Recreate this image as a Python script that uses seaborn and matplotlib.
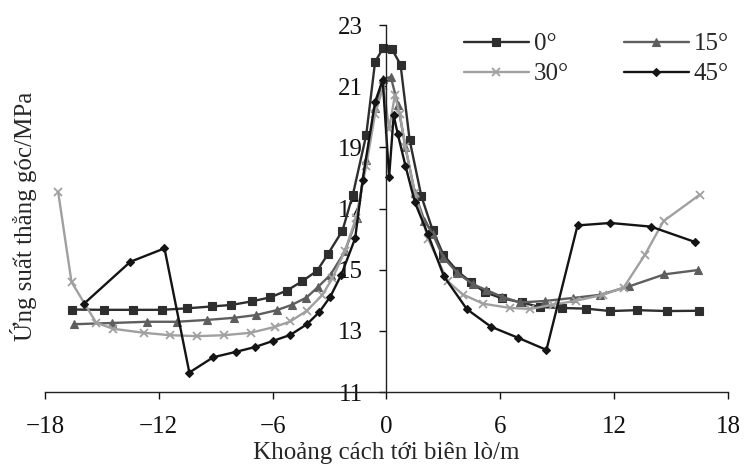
import matplotlib
matplotlib.use('Agg')
import matplotlib.pyplot as plt
import pandas as pd
import seaborn as sns

# gia tri doc tu hinh (da hieu chinh do nghieng cua ban scan)
angles = ['0°', '15°', '30°', '45°']

x_0 = [-16.55, -14.89, -13.34, -11.85, -10.5, -9.22, -8.17, -7.07, -6.12, -5.25,
       -4.43, -3.65, -3.07, -2.32, -1.77, -1.07, -0.6, -0.17, 0.27, 0.74,
       1.22, 1.84, 2.43, 3.0, 3.73, 4.46, 5.17, 6.07, 7.13, 8.1,
       9.25, 10.5, 11.8, 13.2, 14.8, 16.47]
y_0 = [13.70, 13.69, 13.69, 13.69, 13.74, 13.80, 13.85, 13.97, 14.10, 14.32,
       14.63, 14.97, 15.53, 16.28, 17.46, 19.4, 21.8, 22.25, 22.23, 21.71,
       19.24, 17.4, 16.3, 15.49, 14.96, 14.59, 14.27, 14.07, 13.93, 13.78,
       13.75, 13.73, 13.65, 13.68, 13.65, 13.66]

x_15 = [-16.45, -14.47, -12.62, -11.04, -9.46, -8.02, -6.87, -5.78, -5.0, -4.22,
        -3.62, -2.95, -2.19, -1.55, -1.07, -0.6, -0.16, 0.23, 0.6, 1.0,
        1.5, 2.0, 2.43, 3.0, 3.73, 4.54, 5.26, 6.07, 7.04, 8.36,
        9.85, 11.25, 12.8, 14.65, 16.4]
y_15 = [13.22, 13.26, 13.30, 13.30, 13.36, 13.43, 13.52, 13.68, 13.85, 14.09,
        14.43, 14.84, 15.6, 16.7, 18.6, 20.3, 21.25, 21.3, 20.4, 19.0,
        17.5, 16.6, 16.18, 15.4, 14.9, 14.53, 14.34, 14.12, 13.93, 13.98,
        14.08, 14.18, 14.46, 14.85, 14.99]

x_30 = [-17.3, -16.6, -15.3, -14.4, -12.8, -11.4, -9.97, -8.56, -7.16, -5.9,
        -5.07, -4.2, -3.4, -2.85, -2.2, -1.6, -1.07, -0.6, -0.16, 0.14,
        0.44, 0.7, 1.0, 1.5, 2.2, 3.23, 4.03, 5.1, 6.53, 7.58,
        8.8, 10.0, 11.4, 12.5, 13.6, 14.6, 16.5]
y_30 = [17.53, 14.6, 13.27, 13.07, 12.94, 12.86, 12.83, 12.86, 12.94, 13.13,
        13.31, 13.66, 14.16, 14.72, 15.6, 16.7, 18.4, 20.1, 21.0, 19.6,
        20.7, 20.1, 19.0, 17.5, 16.0, 14.62, 14.19, 13.89, 13.75, 13.72,
        13.86, 13.99, 14.18, 14.42, 15.47, 16.59, 17.45]

x_45 = [-15.96, -13.5, -11.7, -10.39, -9.13, -7.91, -6.95, -6.0, -5.07, -4.19,
        -3.55, -2.96, -2.38, -1.65, -1.26, -0.6, -0.2, 0.14, 0.38, 0.59,
        1.0, 1.5, 2.17, 3.03, 4.24, 5.5, 6.92, 8.43, 10.07, 11.8,
        13.94, 16.25]
y_45 = [13.88, 15.26, 15.7, 11.64, 12.14, 12.32, 12.47, 12.67, 12.87, 13.22,
        13.61, 14.12, 14.84, 16.03, 17.93, 20.49, 21.2, 18.04, 20.05, 19.45,
        18.4, 17.2, 16.18, 14.78, 13.71, 13.14, 12.78, 12.38, 16.45, 16.53,
        16.41, 15.91]

x_ticks = [-18, -12, -6, 0, 6, 12, 18]
y_ticks = [11, 13, 15, 17, 19, 21, 23]

df = pd.concat([
    pd.DataFrame({'x': x_0, 'y': y_0, 'goc': angles[0]}),
    pd.DataFrame({'x': x_15, 'y': y_15, 'goc': angles[1]}),
    pd.DataFrame({'x': x_30, 'y': y_30, 'goc': angles[2]}),
    pd.DataFrame({'x': x_45, 'y': y_45, 'goc': angles[3]}),
])

sns.set_style('ticks')
plt.rcParams['font.family'] = ['Liberation Serif', 'DejaVu Serif']

colors = {'0°': '#2e2e2e', '15°': '#5e5e5e', '30°': '#a0a0a0', '45°': '#141414'}
marks = {'0°': 's', '15°': '^', '30°': 'x', '45°': 'D'}
sizes = {'0°': 5.5, '15°': 6, '30°': 6, '45°': 4.5}

fig = plt.figure(figsize=(7.49, 4.73), dpi=100)
ax = fig.add_axes([0.060, 0.171, 0.912, 0.776])

sns.lineplot(data=df, x='x', y='y', hue='goc', hue_order=angles,
             palette=colors, estimator=None, sort=False, linewidth=1.7,
             legend=False, ax=ax)

# them marker cho tung duong (seaborn khong cho tron marker 'x' voi marker dac)
for line, a in zip(ax.lines, angles):
    line.set_marker(marks[a])
    line.set_markeredgecolor(colors[a])
    line.set_markerfacecolor(colors[a])
    line.set_markersize(sizes[a])
    line.set_markeredgewidth(1.3 if a == '30°' else 0.8)

ax.set_xlim(-18, 18)
ax.set_ylim(11, 23)
ax.set_xticks(x_ticks)
ax.set_yticks(y_ticks)
ax.spines['top'].set_visible(False)
ax.spines['right'].set_visible(False)
ax.spines['left'].set_position(('data', 0))
for s in ['left', 'bottom']:
    ax.spines[s].set_linewidth(1.0)
    ax.spines[s].set_color('#222222')
ax.tick_params(axis='both', direction='out', length=5, width=1, labelsize=18,
               pad=12, colors='#111111')

ax.set_xlabel('Khoảng cách tới biên lò/m', fontsize=18)
ax.set_ylabel('Ứng suất thẳng góc/MPa', fontsize=18)
ax.xaxis.set_label_coords(0.5, -0.135)
ax.yaxis.set_label_coords(-0.012, 0.48)

h = {a: l for a, l in zip(angles, ax.lines)}
order = ['0°', '30°', '15°', '45°']
ax.legend([h[a] for a in order], order, ncol=2, loc='upper left',
          bbox_to_anchor=(0.58, 1.04), frameon=False, fontsize=18,
          handlelength=2.6, columnspacing=2.2, labelspacing=0.3,
          handletextpad=0.2)

fig.savefig('out.png', dpi=100)
